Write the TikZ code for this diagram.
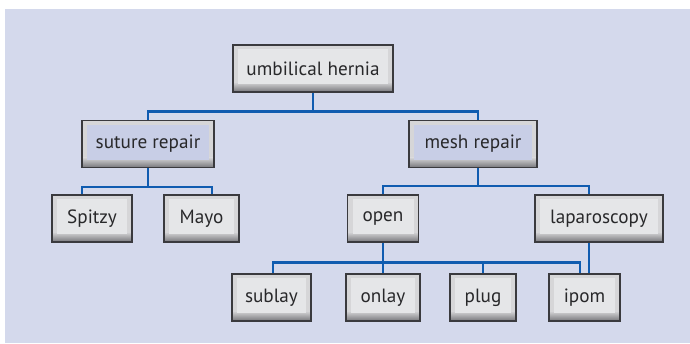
\documentclass[tikz,border=0pt]{standalone}
\usepackage{fontspec}
\setmainfont{PT Sans}
\usepackage{tikz}

\definecolor{backdrop}{RGB}{212,217,236}
\definecolor{facegray}{RGB}{229,230,232}
\definecolor{faceblue}{RGB}{200,206,230}
\definecolor{bevside}{RGB}{214,214,216}
\definecolor{bevbot}{RGB}{118,118,122}
\definecolor{edge}{RGB}{58,58,62}
\definecolor{linkblue}{RGB}{16,92,176}
\definecolor{txt}{RGB}{40,40,42}

\newcommand{\bevelbox}[1]{%
  \fill[bevside] (path picture bounding box.north west) rectangle (path picture bounding box.south east);
  \fill[top color=bevside, bottom color=bevbot] ([yshift=5pt]path picture bounding box.south west) rectangle (path picture bounding box.south east);
  \fill[#1] ([xshift=2.5pt,yshift=-2pt]path picture bounding box.north west) rectangle ([xshift=-2.5pt,yshift=4pt]path picture bounding box.south east);}

\begin{document}
\begin{tikzpicture}[x=0.5pt, y=-0.5pt, align=center, font=\fontsize{9.6}{11}\selectfont]
  \tikzstyle{box} = [rectangle, draw=edge, line width=0.6pt, text=txt, minimum height=23.5pt, inner sep=0pt, path picture={\bevelbox{facegray}}]
  \tikzstyle{keybox} = [box, path picture={\bevelbox{faceblue}}]
  \tikzstyle{link} = [draw=linkblue, line width=1.3pt]

  \useasboundingbox (0,0) rectangle (690,343);
  \fill[backdrop] (5,9) rectangle (690,343);

  % tree of procedures
  \node[box, minimum width=80pt] (hernia) at (313,68.5) {umbilical hernia};
  \node[keybox, minimum width=66pt] (suture) at (148,144) {suture repair};
  \node[keybox, minimum width=64pt] (mesh) at (473,144) {mesh repair};
  \node[box, minimum width=40pt] (spitzy) at (92,218.5) {Spitzy};
  \node[box, minimum width=37.5pt] (mayo) at (201.5,218.5) {Mayo};
  \node[box, minimum width=35.5pt] (open) at (383,218.5) {open};
  \node[box, minimum width=64pt] (lap) at (599,218.5) {laparoscopy};
  \node[box, minimum width=39.5pt] (sublay) at (271.5,297.5) {sublay};
  \node[box, minimum width=37pt] (onlay) at (383,297.5) {onlay};
  \node[box, minimum width=33pt] (plug) at (483,297.5) {plug};
  \node[box, minimum width=35.5pt] (ipom) at (584.5,297.5) {ipom};

  \draw[link] (hernia.south) -- ++(0,19) coordinate (rootbus);
  \draw[link] (suture.north) |- (rootbus) -| ([xshift=2.5pt]mesh.north);

  \draw[link] (suture.south) -- ++(0,19) coordinate (suturebus);
  \draw[link] ([xshift=-5pt]spitzy.north) |- (suturebus) -| ([xshift=5.25pt]mayo.north);

  \draw[link] ([xshift=2.5pt]mesh.south) -- ++(0,18) coordinate (meshbus);
  \draw[link] (open.north) |- (meshbus) -| ([xshift=-5pt]lap.north);

  \draw[link] (open.south) -- (onlay.north);
  \path (open.south) ++(0,20) coordinate (openbus);
  \draw[link] ([xshift=0.75pt]sublay.north) |- (openbus) -| ([xshift=-2.25pt]ipom.north);
  \draw[link] (plug.north) -- (plug.north |- openbus);
  \draw[link] ([xshift=-5pt]lap.south) -- ([xshift=-5pt]lap.south |- ipom.north);
\end{tikzpicture}
\end{document}
